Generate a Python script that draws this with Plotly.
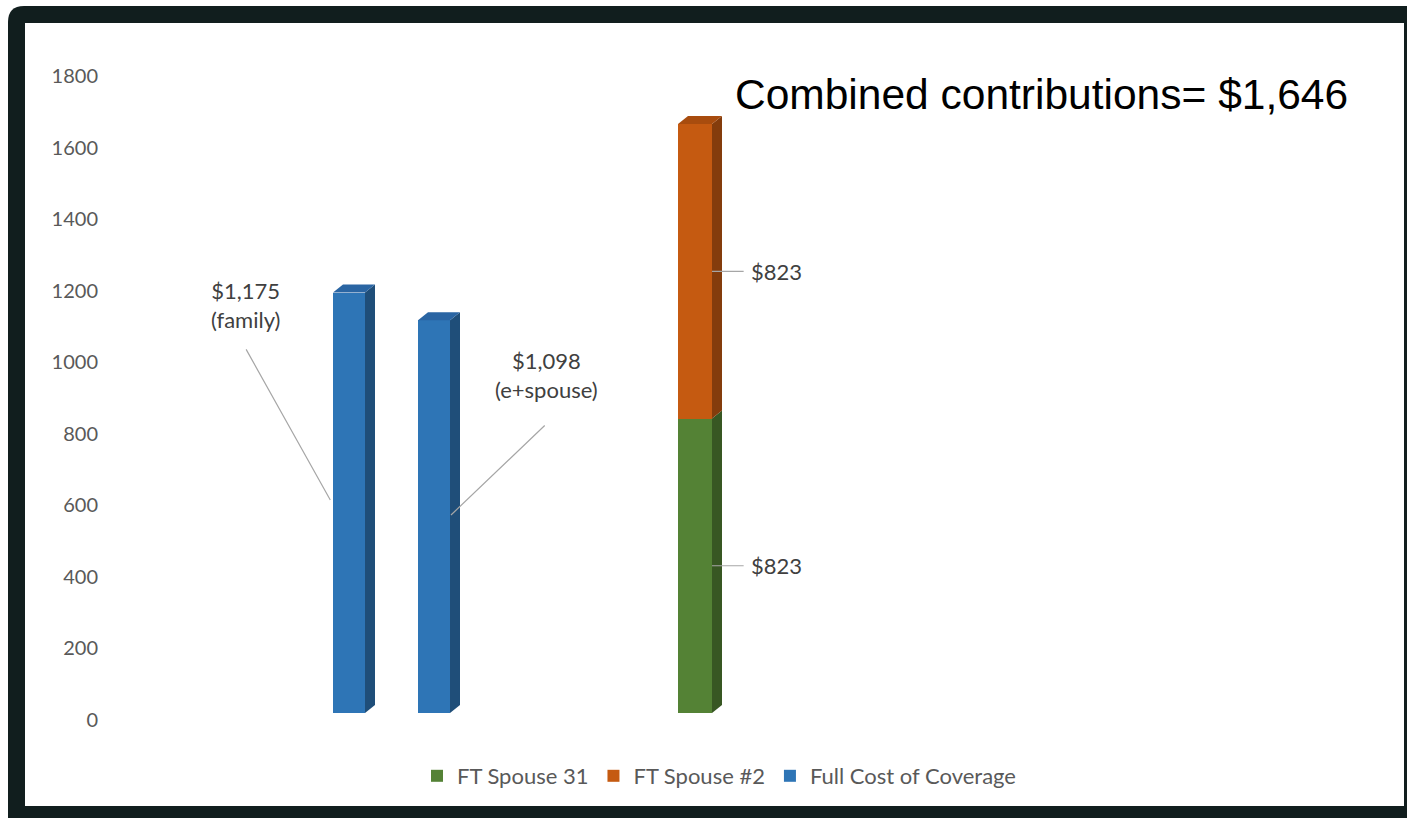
import plotly.graph_objects as go

# ---------------- data ----------------
categories = ["Family", "Employee + Spouse", "Combined"]
full_cost = [1175, 1098]              # Full Cost of Coverage (family, e+spouse)
full_cost_notes = ["family", "e+spouse"]
ft_spouse_31 = [823]                  # Combined bar, bottom segment
ft_spouse_2 = [823]                   # Combined bar, top segment
series_names = ["FT Spouse 31", "FT Spouse #2", "Full Cost of Coverage"]
y_ticks = [0, 200, 400, 600, 800, 1000, 1200, 1400, 1600, 1800]

# ---------------- layout helpers ----------------
W, H = 1410, 818
def pxx(p): return p / W
def pxy(p): return 1 - p / H

slot = {"Family": 0, "Employee + Spouse": 1, "Combined": 4}
UNIT_PX = 85.0
Y0_PX, Y1800_PX = 720, 76
YPX = (Y0_PX - Y1800_PX) / 1800.0
XL_PX, XR_PX = 99, 1395
x_start = -(349 - XL_PX) / UNIT_PX
x_end = x_start + (XR_PX - XL_PX) / UNIT_PX

lift = 7 / YPX          # front face lifted (3D floor depth)
dx = 10 / UNIT_PX       # depth offset x
dy = 8 / YPX            # depth offset y

BLUE, BLUE_S, BLUE_T = "#2E75B6", "#1F4E79", "#2A65A3"
ORANGE, ORANGE_S, ORANGE_T = "#C55A11", "#843C0C", "#A84C0E"
GREEN, GREEN_S, GREEN_T = "#548235", "#385723", "#47702D"

fig = go.Figure()

def faces(xl, xr, b, t, side_col, top_col, top=True):
    fig.add_trace(go.Scatter(
        x=[xr, xr + dx, xr + dx, xr, xr], y=[b, b + dy, t + dy, t, b],
        fill="toself", fillcolor=side_col, mode="lines",
        line=dict(width=0, color=side_col), showlegend=False, hoverinfo="skip"))
    if top:
        fig.add_trace(go.Scatter(
            x=[xl, xl + dx, xr + dx, xr, xl], y=[t, t + dy, t + dy, t, t],
            fill="toself", fillcolor=top_col, mode="lines",
            line=dict(width=0, color=top_col), showlegend=False, hoverinfo="skip"))

# Blue bars
bw = 32 / UNIT_PX
bx = [slot[c] for c in categories[:2]]
for xc, v in zip(bx, full_cost):
    faces(xc - bw / 2, xc + bw / 2, lift, lift + v, BLUE_S, BLUE_T)
fig.add_trace(go.Bar(x=bx, y=full_cost, base=lift, width=bw, marker=dict(color=BLUE, line=dict(width=0)),
                     name=series_names[2], legendrank=3, hoverinfo="y"))

# Combined stacked bar
cw = 34 / UNIT_PX
shift = 6 / UNIT_PX
cx = slot["Combined"]
g = ft_spouse_31[0]
o = ft_spouse_2[0]
faces(cx + shift - cw / 2, cx + shift + cw / 2, lift, lift + g, GREEN_S, GREEN_T, top=False)
faces(cx + shift - cw / 2, cx + shift + cw / 2, lift + g, lift + g + o, ORANGE_S, ORANGE_T)
fig.add_trace(go.Bar(x=[cx], y=ft_spouse_31, base=lift, width=cw, offset=-cw / 2 + shift,
                     marker=dict(color=GREEN, line=dict(width=0)), name=series_names[0], legendrank=1))
fig.add_trace(go.Bar(x=[cx], y=ft_spouse_2, base=[lift + g], width=cw, offset=-cw / 2 + shift,
                     marker=dict(color=ORANGE, line=dict(width=0)), name=series_names[1], legendrank=2))

LABEL_FONT = dict(family="Lato, Open Sans, sans-serif", size=22, color="#404040")
LEADER = "#A6A6A6"
annotations = []

# Blue labels with leader lines
blue_label_pos = [(-1.22, 1160, -1.22, 1040, -0.22, 615), (2.32, 964, 2.32, 827, 1.2, 573)]
for v, note, (tx, ty, sx, sy, ex, ey) in zip(full_cost, full_cost_notes, blue_label_pos):
    annotations.append(dict(x=tx, y=ty, xref="x", yref="y", text=f"${v:,}<br>({note})",
                            showarrow=False, font=LABEL_FONT, align="center"))
    annotations.append(dict(x=ex, y=ey, ax=sx, ay=sy, xref="x", yref="y", axref="x", ayref="y",
                            text="", showarrow=True, arrowhead=0, arrowwidth=1.2, arrowcolor=LEADER))

# Segment labels
xr_c = cx + shift + cw / 2
for val, base in [(o, g), (g, 0)]:
    yc = lift + base + val / 2
    annotations.append(dict(x=xr_c + 0.44, y=yc, xref="x", yref="y", text=f"${val:,}",
                            showarrow=False, font=LABEL_FONT, xanchor="left"))
    annotations.append(dict(x=xr_c, y=yc, ax=xr_c + 0.39, ay=yc, xref="x", yref="y", axref="x", ayref="y",
                            text="", showarrow=True, arrowhead=0, arrowwidth=1.2, arrowcolor=LEADER))

# Title text
total = g + o
annotations.append(dict(x=pxx(733), y=pxy(94), xref="paper", yref="paper", xanchor="left", yanchor="middle",
                        text=f"Combined contributions= ${total:,}", showarrow=False,
                        font=dict(family="Liberation Sans, Arial, sans-serif", size=42.5, color="#000000")))

DARK = "#111E1E"
shapes = [
    dict(type="path", xref="paper", yref="paper", layer="below",
         path=f"M {pxx(8)},{pxy(818)} L {pxx(8)},{pxy(22)} Q {pxx(8)},{pxy(6)} {pxx(24)},{pxy(6)} "
              f"L {pxx(1407)},{pxy(6)} L {pxx(1407)},{pxy(818)} Z",
         fillcolor=DARK, line=dict(width=0)),
    dict(type="rect", xref="paper", yref="paper", layer="below",
         x0=pxx(25), x1=pxx(1404), y0=pxy(806), y1=pxy(23), fillcolor="white", line=dict(width=0)),
]

fig.update_layout(
    width=W, height=H, margin=dict(l=0, r=0, t=0, b=0, autoexpand=False),
    paper_bgcolor="white", plot_bgcolor="rgba(0,0,0,0)",
    barmode="overlay", bargap=0,
    xaxis=dict(domain=[pxx(XL_PX), pxx(XR_PX)], range=[x_start, x_end], showgrid=False,
               zeroline=False, showticklabels=False, showline=False, fixedrange=True),
    yaxis=dict(domain=[pxy(Y0_PX), pxy(Y1800_PX)], range=[0, 1800], tickvals=y_ticks,
               showgrid=False, zeroline=False, showline=False, ticks="",
               tickfont=dict(family="Lato, Open Sans, sans-serif", size=20, color="#595959"),
               fixedrange=True),
    legend=dict(orientation="h", x=pxx(719), y=pxy(776), xanchor="center", yanchor="middle",
                font=dict(family="Lato, Open Sans, sans-serif", size=22, color="#595959"),
                itemwidth=30, traceorder="normal", bgcolor="rgba(0,0,0,0)"),
    annotations=annotations, shapes=shapes, showlegend=True,
)

fig.write_html("out.html")
